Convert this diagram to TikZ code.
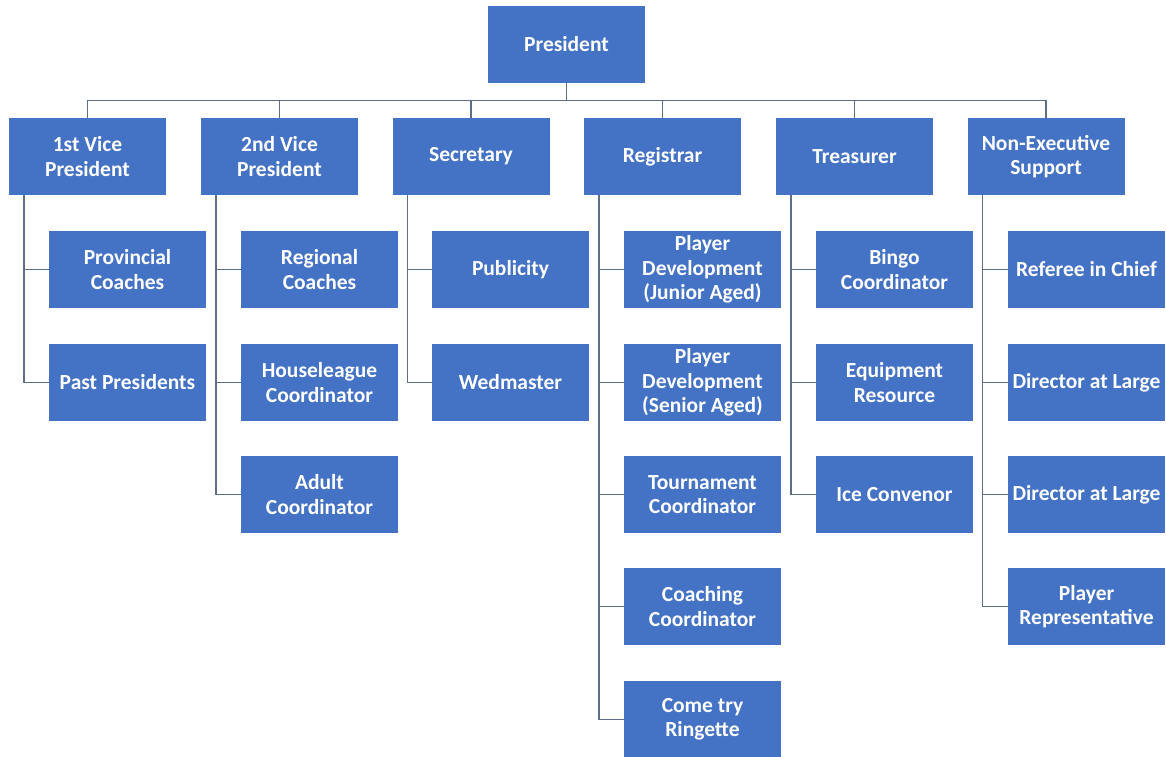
\documentclass[tikz,border=0pt]{standalone}
\usepackage{fontspec}
\setmainfont{Carlito}
\definecolor{boxblue}{HTML}{4472C4}
\definecolor{linecol}{HTML}{5F6E88}
\begin{document}
\begin{tikzpicture}[x=1pt,y=-1pt,
  box/.style={fill=boxblue, draw=none, minimum width=157pt, minimum height=77pt, inner sep=0pt,
    text=white, align=center, font=\fontsize{21.5}{24.5}\selectfont\bfseries},
  conn/.style={draw=linecol, line width=1.4pt}]
\useasboundingbox (0,0) rectangle (1166,756);
\node[box] (pres) at (566.5,44.5) {President};
\node[box] (vpa) at (87.5,156.5) {1st Vice\\President};
\node[box] (vpb) at (279.5,156.5) {2nd Vice\\President};
\node[box] (sec) at (471,156.5) {Secretary};
\node[box] (reg) at (662.5,156.5) {Registrar};
\node[box] (tre) at (854.5,156.5) {Treasurer};
\node[box] (nex) at (1046,156.5) {Non-Executive\\Support};
% children
\node[box] (a1) at (127.5,269.5) {Provincial\\Coaches};
\node[box] (a2) at (127.5,382.5) {Past Presidents};
\node[box] (b1) at (319.5,269.5) {Regional\\Coaches};
\node[box] (b2) at (319.5,382.5) {Houseleague\\Coordinator};
\node[box] (b3) at (319.5,494.5) {Adult\\Coordinator};
\node[box] (s1) at (510.5,269.5) {Publicity};
\node[box] (s2) at (510.5,382.5) {Wedmaster};
\node[box] (r1) at (702.5,269.5) {Player\\Development\\(Junior Aged)};
\node[box] (r2) at (702.5,382.5) {Player\\Development\\(Senior Aged)};
\node[box] (r3) at (702.5,494.5) {Tournament\\Coordinator};
\node[box] (r4) at (702.5,606.5) {Coaching\\Coordinator};
\node[box] (r5) at (702.5,719.5) {Come try\\Ringette};
\node[box] (t1) at (894.5,269.5) {Bingo\\Coordinator};
\node[box] (t2) at (894.5,382.5) {Equipment\\Resource};
\node[box] (t3) at (894.5,494.5) {Ice Convenor};
\node[box] (n1) at (1086.5,269.5) {Referee in Chief};
\node[box] (n2) at (1086.5,382.5) {Director at Large};
\node[box] (n3) at (1086.5,494.5) {Director at Large};
\node[box] (n4) at (1086.5,606.5) {Player\\Representative};
% top connectors
\foreach \n in {vpa,vpb,sec,reg,tre,nex}
  \draw[conn] (pres.south) -- ++(0,17.5) -| (\n.north);
% child connectors
\foreach \p/\c in {vpa/a1,vpa/a2,vpb/b1,vpb/b2,vpb/b3,sec/s1,sec/s2,reg/r1,reg/r2,reg/r3,reg/r4,reg/r5,tre/t1,tre/t2,tre/t3,nex/n1,nex/n2,nex/n3,nex/n4}
  \draw[conn] ([xshift=15pt]\p.south west) |- (\c.west);
\end{tikzpicture}
\end{document}
